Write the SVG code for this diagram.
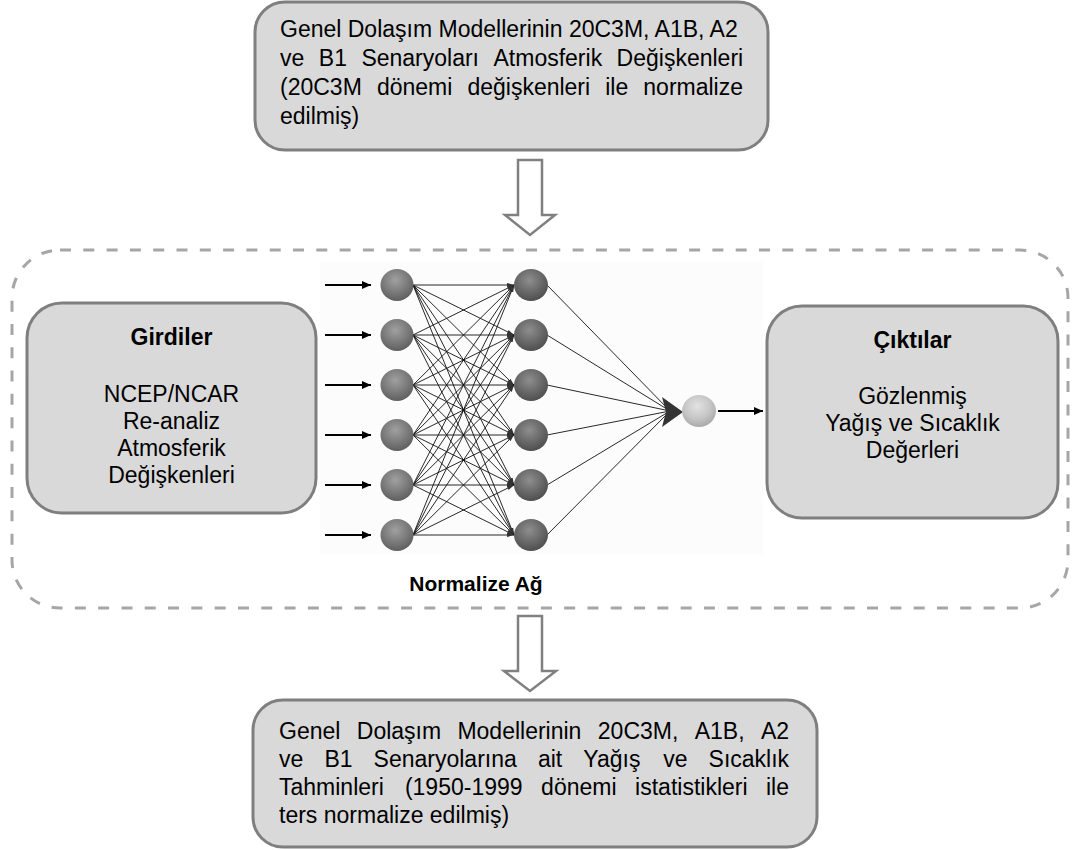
<svg xmlns="http://www.w3.org/2000/svg" width="1073" height="850" viewBox="0 0 1073 850">
<defs>
<style>
.box{fill:#d9d9d9;stroke:#7f7f7f;stroke-width:3}
.t{font-family:"Liberation Sans",Arial,sans-serif;font-size:23px;fill:#000}
.b{font-weight:bold}
.c{text-anchor:middle}
.hollow{fill:#fff;stroke:#808080;stroke-width:2.5;stroke-linejoin:miter}
.nn{stroke:#111;stroke-width:0.9;fill:none}
.inarr{stroke:#000;stroke-width:1.8;fill:none}
</style>
<marker id="mSmall" markerUnits="userSpaceOnUse" markerWidth="8" markerHeight="6" refX="7" refY="3" orient="auto">
<path d="M0,1 L7,3 L0,5 z" fill="#333"/>
</marker>
<marker id="mIn" markerUnits="userSpaceOnUse" markerWidth="10" markerHeight="8" refX="9" refY="4" orient="auto">
<path d="M0,0 L9,4 L0,8 z" fill="#000"/>
</marker>
<radialGradient id="gIn" cx="0.45" cy="0.35" r="0.7">
<stop offset="0" stop-color="#a0a0a0"/><stop offset="0.55" stop-color="#7a7a7a"/><stop offset="1" stop-color="#5a5a5a"/>
</radialGradient>
<radialGradient id="gHid" cx="0.45" cy="0.35" r="0.7">
<stop offset="0" stop-color="#8e8e8e"/><stop offset="0.55" stop-color="#686868"/><stop offset="1" stop-color="#4a4a4a"/>
</radialGradient>
<radialGradient id="gOut" cx="0.45" cy="0.35" r="0.7">
<stop offset="0" stop-color="#e2e2e2"/><stop offset="0.55" stop-color="#c6c6c6"/><stop offset="1" stop-color="#a4a4a4"/>
</radialGradient>
</defs>

<rect x="0" y="0" width="1073" height="850" fill="#fff"/>

<g id="normalize-ag">
<rect x="12" y="250" width="1056" height="358" rx="48" ry="48" fill="none" stroke="#a6a6a6" stroke-width="3" stroke-dasharray="11 12.3"/>
<rect x="320" y="262" width="443" height="292" fill="#fcfcfc"/>
<text class="t b c" x="476" y="591" style="font-size:21px">Normalize Ağ</text>
</g>

<g id="top-box">
<rect class="box" x="255" y="2" width="513" height="148" rx="30" ry="30"/>
<text class="t" y="37"><tspan x="280">Genel Dolaşım Modellerinin 20C3M, A1B, A2</tspan></text>
<text class="t" y="66"><tspan x="280">ve</tspan><tspan x="318.8">B1</tspan><tspan x="361.4">Senaryoları</tspan><tspan x="493.5">Atmosferik</tspan><tspan x="616.6">Değişkenleri</tspan></text>
<text class="t" y="95"><tspan x="280">(20C3M</tspan><tspan x="376.9">dönemi</tspan><tspan x="467.4">değişkenleri</tspan><tspan x="605.2">ile</tspan><tspan x="643.3">normalize</tspan></text>
<text class="t" y="124"><tspan x="280">edilmiş)</tspan></text>
</g>

<g id="girdiler">
<rect class="box" x="27" y="303" width="289" height="210" rx="35" ry="35"/>
<text class="t b c" x="171.5" y="345">Girdiler</text>
<text class="t c" x="171.5" y="402">NCEP/NCAR</text>
<text class="t c" x="171.5" y="429">Re-analiz</text>
<text class="t c" x="171.5" y="456">Atmosferik</text>
<text class="t c" x="171.5" y="483">Değişkenleri</text>
</g>

<g id="ciktilar">
<rect class="box" x="767" y="306" width="291" height="212" rx="35" ry="35"/>
<text class="t b c" x="912.5" y="348">Çıktılar</text>
<text class="t c" x="912.5" y="404">Gözlenmiş</text>
<text class="t c" x="912.5" y="431">Yağış ve Sıcaklık</text>
<text class="t c" x="912.5" y="458">Değerleri</text>
</g>

<g id="bottom-box">
<rect class="box" x="253" y="700" width="564" height="147" rx="30" ry="30"/>
<text class="t" y="739"><tspan x="279">Genel</tspan><tspan x="356.8">Dolaşım</tspan><tspan x="457.4">Modellerinin</tspan><tspan x="597.8">20C3M,</tspan><tspan x="694.7">A1B,</tspan><tspan x="760.9">A2</tspan></text>
<text class="t" y="767"><tspan x="279">ve</tspan><tspan x="324.4">B1</tspan><tspan x="373.6">Senaryolarına</tspan><tspan x="537.9">ait</tspan><tspan x="583.3">Yağış</tspan><tspan x="663.2">ve</tspan><tspan x="708.6">Sıcaklık</tspan></text>
<text class="t" y="795"><tspan x="279">Tahminleri</tspan><tspan x="404.9">(1950-1999</tspan><tspan x="541.1">dönemi</tspan><tspan x="635.1">istatistikleri</tspan><tspan x="766">ile</tspan></text>
<text class="t" y="823"><tspan x="279">ters normalize edilmiş)</tspan></text>
</g>

<g id="connectors">
<path class="hollow" d="M518,160 L542,160 L542,215 L555,215 L530,235 L505,215 L518,215 Z"/>
<path class="hollow" d="M518,616 L542,616 L542,671 L556,671 L530,691 L504,671 L518,671 Z"/>
<g class="inarr" marker-end="url(#mIn)">
<line x1="325" y1="285" x2="371" y2="285"/>
<line x1="325" y1="335" x2="371" y2="335"/>
<line x1="325" y1="385" x2="371" y2="385"/>
<line x1="325" y1="435" x2="371" y2="435"/>
<line x1="325" y1="485" x2="371" y2="485"/>
<line x1="325" y1="535" x2="371" y2="535"/>
</g>
<g class="nn" marker-end="url(#mSmall)">
<line x1="413" y1="285" x2="514" y2="285"/><line x1="413" y1="285" x2="514" y2="335"/><line x1="413" y1="285" x2="514" y2="385"/><line x1="413" y1="285" x2="514" y2="435"/><line x1="413" y1="285" x2="514" y2="485"/><line x1="413" y1="285" x2="514" y2="535"/>
<line x1="413" y1="335" x2="514" y2="285"/><line x1="413" y1="335" x2="514" y2="335"/><line x1="413" y1="335" x2="514" y2="385"/><line x1="413" y1="335" x2="514" y2="435"/><line x1="413" y1="335" x2="514" y2="485"/><line x1="413" y1="335" x2="514" y2="535"/>
<line x1="413" y1="385" x2="514" y2="285"/><line x1="413" y1="385" x2="514" y2="335"/><line x1="413" y1="385" x2="514" y2="385"/><line x1="413" y1="385" x2="514" y2="435"/><line x1="413" y1="385" x2="514" y2="485"/><line x1="413" y1="385" x2="514" y2="535"/>
<line x1="413" y1="435" x2="514" y2="285"/><line x1="413" y1="435" x2="514" y2="335"/><line x1="413" y1="435" x2="514" y2="385"/><line x1="413" y1="435" x2="514" y2="435"/><line x1="413" y1="435" x2="514" y2="485"/><line x1="413" y1="435" x2="514" y2="535"/>
<line x1="413" y1="485" x2="514" y2="285"/><line x1="413" y1="485" x2="514" y2="335"/><line x1="413" y1="485" x2="514" y2="385"/><line x1="413" y1="485" x2="514" y2="435"/><line x1="413" y1="485" x2="514" y2="485"/><line x1="413" y1="485" x2="514" y2="535"/>
<line x1="413" y1="535" x2="514" y2="285"/><line x1="413" y1="535" x2="514" y2="335"/><line x1="413" y1="535" x2="514" y2="385"/><line x1="413" y1="535" x2="514" y2="435"/><line x1="413" y1="535" x2="514" y2="485"/><line x1="413" y1="535" x2="514" y2="535"/>
</g>
<g class="nn">
<line x1="547" y1="285" x2="670" y2="411"/>
<line x1="547" y1="335" x2="670" y2="411"/>
<line x1="547" y1="385" x2="670" y2="411"/>
<line x1="547" y1="435" x2="670" y2="411"/>
<line x1="547" y1="485" x2="670" y2="411"/>
<line x1="547" y1="535" x2="670" y2="411"/>
</g>
<polygon points="662,397 683,412 662,427 666,412" fill="#333"/>
<line class="inarr" x1="718" y1="411" x2="763" y2="411" marker-end="url(#mIn)"/>
</g>

<g id="neurons">
<g id="in1"><ellipse cx="397" cy="285" rx="16.5" ry="16" fill="url(#gIn)"/></g>
<g id="in2"><ellipse cx="397" cy="335" rx="16.5" ry="16" fill="url(#gIn)"/></g>
<g id="in3"><ellipse cx="397" cy="385" rx="16.5" ry="16" fill="url(#gIn)"/></g>
<g id="in4"><ellipse cx="397" cy="435" rx="16.5" ry="16" fill="url(#gIn)"/></g>
<g id="in5"><ellipse cx="397" cy="485" rx="16.5" ry="16" fill="url(#gIn)"/></g>
<g id="in6"><ellipse cx="397" cy="535" rx="16.5" ry="16" fill="url(#gIn)"/></g>
<g id="hid1"><ellipse cx="531" cy="285" rx="17" ry="16" fill="url(#gHid)"/></g>
<g id="hid2"><ellipse cx="531" cy="335" rx="17" ry="16" fill="url(#gHid)"/></g>
<g id="hid3"><ellipse cx="531" cy="385" rx="17" ry="16" fill="url(#gHid)"/></g>
<g id="hid4"><ellipse cx="531" cy="435" rx="17" ry="16" fill="url(#gHid)"/></g>
<g id="hid5"><ellipse cx="531" cy="485" rx="17" ry="16" fill="url(#gHid)"/></g>
<g id="hid6"><ellipse cx="531" cy="535" rx="17" ry="16" fill="url(#gHid)"/></g>
<g id="out1"><ellipse cx="699" cy="411" rx="17" ry="16" fill="url(#gOut)"/></g>
</g>
</svg>
